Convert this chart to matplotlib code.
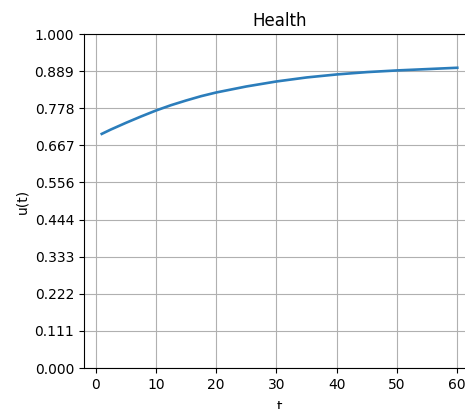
import numpy as np
import matplotlib.pyplot as plt

# values
t_vals = [1, 2.5, 5, 7.5, 10, 12.5, 15, 17.5, 20, 25, 30, 35, 40, 45, 50, 55, 60]
u_vals = [0.701, 0.714, 0.734, 0.753, 0.771, 0.787, 0.801, 0.814, 0.825, 0.843,
          0.858, 0.870, 0.879, 0.886, 0.891, 0.895, 0.899]
y_ticks = np.linspace(0, 1, 10)

fig = plt.figure(figsize=(4.65, 4.09), dpi=100)
# axes runs past the right edge, as in the cropped reference
ax = fig.add_axes([0.1806, 0.1002, 0.841, 0.8166])
ax.plot(t_vals, u_vals, color="#2b7dbb", lw=1.9)
ax.set_ylim(0, 1)
ax.set_yticks(y_ticks)
ax.set_yticklabels([f"{v:.3f}" for v in y_ticks])
ax.set_xticks([0, 10, 20, 30, 40, 50, 60])
ax.set_xlabel("t", labelpad=6)
ax.set_ylabel("u(t)")
ax.set_title("Health")
ax.grid(True)

fig.savefig("out.png", dpi=100)
